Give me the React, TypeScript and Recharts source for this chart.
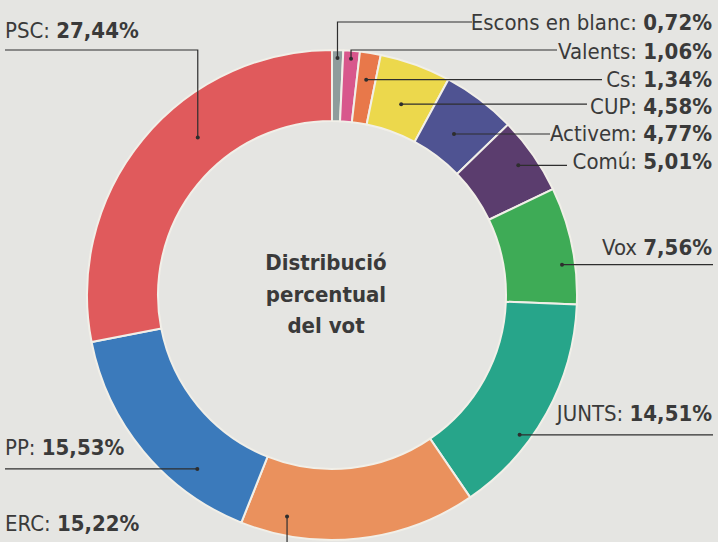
import React from "react";
import { PieChart, Pie, Cell } from "recharts";

// vote share per party, clockwise from the top
const parties = ["Escons en blanc", "Valents", "Cs", "CUP", "Activem", "Comú", "Vox", "JUNTS", "ERC", "PP", "PSC"];
const shares = [0.72, 1.06, 1.34, 4.58, 4.77, 5.01, 7.56, 14.51, 15.22, 15.53, 27.44];
const separators = [": ", ": ", ": ", ": ", ": ", ": ", " ", ": ", ": ", ": ", ": "];
const colors = ["#8e9c9c", "#d8578c", "#e8784a", "#ecd84c", "#4f5392", "#5b3d6e", "#3eab56", "#27a58a", "#ea915d", "#3b7abb", "#e05a5c"];
const centerLines = ["Distribució", "percentual", "del vot"];

const data = parties.map((name, i) => ({ name, value: shares[i] }));
const fmt = (v: number) => v.toFixed(2).replace(".", ",") + "%";

// where each callout sits: t = position inside the slice, r = radius of the dot
type Callout = { t: number; r: number; lineY?: number; lineEnd?: number; textX: number; textY: number; anchor: "start" | "end" };
const callouts: Callout[] = [
  { t: 0.5, r: 237, lineY: 22, lineEnd: 472, textX: 712, textY: 30, anchor: "end" },
  { t: 0.5, r: 237, lineY: 50, lineEnd: 557, textX: 712, textY: 59, anchor: "end" },
  { t: 0.5, r: 218, lineEnd: 602, textX: 712, textY: 87, anchor: "end" },
  { t: 0.5, r: 203, lineEnd: 587, textX: 712, textY: 114, anchor: "end" },
  { t: 0.5, r: 202, lineEnd: 550, textX: 712, textY: 141, anchor: "end" },
  { t: 0.5, r: 227, lineEnd: 567, textX: 712, textY: 169, anchor: "end" },
  { t: 0.65, r: 232, lineEnd: 713, textX: 712, textY: 255, anchor: "end" },
  { t: 0.645, r: 234, lineEnd: 713, textX: 712, textY: 421, anchor: "end" },
  { t: 0.817, r: 226, lineY: 545, textX: 5, textY: 531, anchor: "start" },
  { t: 0.28, r: 220, lineEnd: 5, textX: 5, textY: 455, anchor: "start" },
  { t: 0.6, r: 207, lineY: 50, lineEnd: 5, textX: 5, textY: 38, anchor: "start" },
];

const FONT = "'Liberation Sans Narrow', 'DejaVu Sans Condensed', 'Open Sans', sans-serif";
const INK = "#3a3a3a";

const renderCallout = (props: any) => {
  const { cx, cy, startAngle, endAngle, midAngle, index } = props;
  const c = callouts[index];
  const a = startAngle != null && endAngle != null ? startAngle + (endAngle - startAngle) * c.t : midAngle;
  const rad = (-a * Math.PI) / 180;
  const x = cx + c.r * Math.cos(rad);
  const y = cy + c.r * Math.sin(rad);
  const ly = c.lineY ?? y;
  const pts = [`${x},${y}`, `${x},${ly}`];
  if (c.lineEnd != null) pts.push(`${c.lineEnd},${ly}`);
  return (
    <g key={`callout-${index}`}>
      <polyline points={pts.join(" ")} fill="none" stroke="#2e2e2e" strokeWidth={1.2} />
      <circle cx={x} cy={y} r={2} fill="#2e2e2e" />
      <text x={c.textX} y={c.textY} textAnchor={c.anchor} fontFamily={FONT} fontSize={22} fill={INK}>
        {parties[index] + separators[index]}
        <tspan fontWeight="bold">{fmt(shares[index])}</tspan>
      </text>
    </g>
  );
};

export default function App() {
  return (
    <div style={{ position: "fixed", left: 0, top: 0, width: 718, height: 542, background: "#e5e5e2", overflow: "hidden" }}>
      <PieChart width={718} height={542} margin={{ top: 0, right: 0, bottom: 0, left: 0 }}>
        <Pie
          data={data}
          dataKey="value"
          nameKey="name"
          cx={332}
          cy={295}
          innerRadius={174}
          outerRadius={245}
          startAngle={90}
          endAngle={-270}
          stroke="#f1efe8"
          strokeWidth={2}
          label={renderCallout}
          labelLine={false}
          isAnimationActive={false}
        >
          {data.map((d, i) => (
            <Cell key={d.name} fill={colors[i]} />
          ))}
        </Pie>
        <text x={326} y={270} textAnchor="middle" fontFamily={FONT} fontSize={22} fontWeight="bold" fill={INK}>
          {centerLines[0]}
        </text>
        <text x={326} y={302} textAnchor="middle" fontFamily={FONT} fontSize={22} fontWeight="bold" fill={INK}>
          {centerLines[1]}
        </text>
        <text x={326} y={333} textAnchor="middle" fontFamily={FONT} fontSize={22} fontWeight="bold" fill={INK}>
          {centerLines[2]}
        </text>
      </PieChart>
    </div>
  );
}
